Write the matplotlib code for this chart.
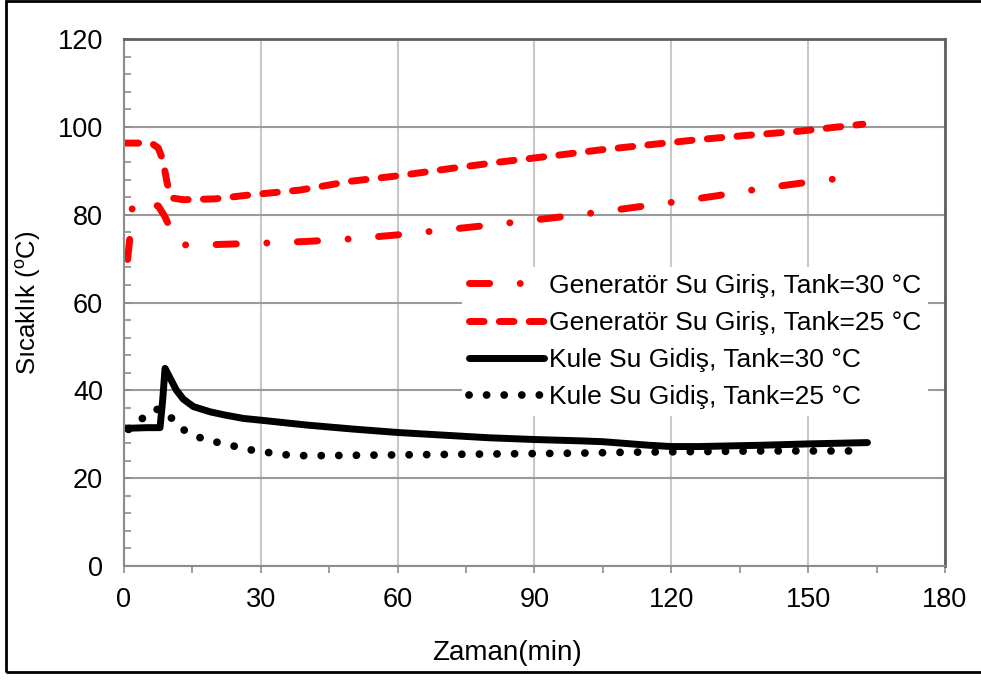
import matplotlib
matplotlib.use('Agg')
import matplotlib.pyplot as plt
from matplotlib.ticker import MultipleLocator
from matplotlib.patches import Rectangle

plt.rcParams['font.family'] = ['Liberation Sans', 'DejaVu Sans']
plt.rcParams['mathtext.fontset'] = 'custom'
plt.rcParams['mathtext.rm'] = 'Liberation Sans'

# Generatör Su Giriş, Tank=30 °C
gen30_x = [0.8, 1.3, 1.8, 2.4, 5, 7.5, 9, 10.5, 12.5, 15, 20, 30, 40, 50, 60, 70, 80, 90,
           100, 110, 120, 130, 140, 150, 159.5]
gen30_y = [69.8, 75, 81.5, 83, 82.5, 82, 79.5, 76, 73.2, 73, 73.2, 73.5, 73.9, 74.5, 75.4, 76.5,
           77.6, 78.8, 80, 81.4, 82.8, 84.3, 86, 87.4, 88.6]

# Generatör Su Giriş, Tank=25 °C
gen25_x = [0, 6, 7.5, 8.5, 9.5, 10.5, 13, 20, 27.6, 38.6, 49.6, 60.5, 71.5, 82.5, 95.6, 104,
           115, 126, 137, 148, 162]
gen25_y = [96.3, 96.3, 95.2, 92.5, 87, 83.8, 83.4, 83.6, 84.5, 85.6, 87.6, 88.9, 90.5, 92, 93.6,
           94.7, 95.9, 97.1, 98.1, 99, 100.6]

# Kule Su Gidiş, Tank=30 °C
kule30_x = [0.5, 2, 5, 7.9, 8.5, 9, 10, 11.5, 13, 15.2, 18.9, 22, 26.2, 30, 40, 50, 60, 70, 80,
            90, 100, 105, 110, 115, 120, 126, 140, 150, 163]
kule30_y = [31.3, 31.4, 31.5, 31.5, 38, 45, 43, 40, 38, 36.3, 35.1, 34.4, 33.6, 33.2, 32.1,
            31.2, 30.4, 29.8, 29.2, 28.8, 28.5, 28.3, 27.9, 27.5, 27.2, 27.2, 27.5, 27.8, 28.1]

# Kule Su Gidiş, Tank=25 °C
kule25_x = [1, 3.5, 6.4, 7.8, 10.1, 12.9, 16.4, 20.3, 24.1, 28, 31.9, 35.7, 40, 50, 60, 70, 80,
            90, 100, 110, 120, 130, 140, 150, 161]
kule25_y = [31.1, 33.2, 35.4, 35.8, 34, 31.1, 29.3, 28.2, 27.3, 26.4, 25.8, 25.3, 25.1, 25.2,
            25.3, 25.4, 25.5, 25.6, 25.7, 25.9, 26.0, 26.1, 26.2, 26.2, 26.2]

labels = ['Generatör Su Giriş, Tank=30 °C', 'Generatör Su Giriş, Tank=25 °C',
          'Kule Su Gidiş, Tank=30 °C', 'Kule Su Gidiş, Tank=25 °C']

fig = plt.figure(figsize=(9.81, 6.82), dpi=100)
ax = fig.add_axes([0.1264, 0.1701, 0.8369, 0.7727])

lw = 5
ax.plot(gen30_x, gen30_y, color='red', lw=lw, linestyle=(0, (2.9, 4.4, 0.01, 4.4)),
        dash_capstyle='round', solid_joinstyle='round', label=labels[0])
ax.plot(gen25_x, gen25_y, color='red', lw=lw, linestyle=(0, (2.1, 2.2)),
        dash_capstyle='round', label=labels[1])
ax.plot(kule30_x, kule30_y, color='black', lw=lw, solid_capstyle='round',
        solid_joinstyle='round', label=labels[2])
ax.plot(kule25_x, kule25_y, color='black', lw=5.6, linestyle=(0, (0.01, 2.25)),
        dash_capstyle='round', label=labels[3])

ax.set_xlim(0, 180)
ax.set_ylim(0, 120)
ax.xaxis.set_major_locator(MultipleLocator(30))
ax.xaxis.set_minor_locator(MultipleLocator(15))
ax.yaxis.set_major_locator(MultipleLocator(20))
ax.yaxis.set_minor_locator(MultipleLocator(4))

ax.xaxis.grid(True, color='#c8c8c8', lw=1.5, zorder=0)
ax.yaxis.grid(True, color='#9a9a9a', lw=1.5, zorder=0)
ax.set_axisbelow(True)

ax.tick_params(axis='x', which='both', direction='out', length=5, width=1.2,
               color='#8c8c8c', labelsize=19.5, pad=10)
ax.tick_params(axis='y', which='both', direction='in', length=5, width=1.2,
               color='#8c8c8c', labelsize=19.5, pad=15)

for side in ['left', 'bottom']:
    ax.spines[side].set_color('#8c8c8c')
    ax.spines[side].set_linewidth(1.5)
for side in ['top', 'right']:
    ax.spines[side].set_color('#606060')
    ax.spines[side].set_linewidth(2)

ax.set_xlabel('Zaman(min)', fontsize=20)
ax.set_ylabel(r'Sıcaklık ($\mathregular{^o}$C)', fontsize=18.5)
ax.xaxis.set_label_coords(0.4659, -0.14)
ax.yaxis.set_label_coords(-0.0987, 0.5)

leg = ax.legend(loc='upper left', bbox_to_anchor=(0.4117, 0.5674), fontsize=19,
                frameon=True, facecolor='white', edgecolor='none', framealpha=1,
                fancybox=False, handlelength=2.85, handletextpad=0.2,
                labelspacing=0.5, borderpad=0.25, borderaxespad=0)

fig.patches.append(Rectangle((6 / 981, 10 / 682), 1.1, 671 / 682, transform=fig.transFigure,
                             fill=False, edgecolor='black', lw=2))

fig.savefig('out.png', dpi=100)
